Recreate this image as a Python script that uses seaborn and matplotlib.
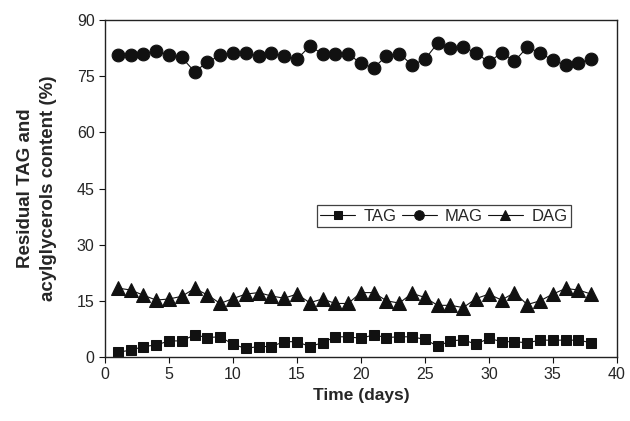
import matplotlib
matplotlib.use("Agg")
import matplotlib.pyplot as plt
import seaborn as sns
import pandas as pd

days = list(range(1, 39))
tag = [1.3, 1.8, 2.8, 3.2, 4.3, 4.3, 5.9, 5.2, 5.4, 3.4, 2.3, 2.8, 2.8, 4.1, 4.1, 2.8, 3.8, 5.4, 5.4, 5.0,
       5.9, 5.2, 5.4, 5.4, 4.7, 2.9, 4.3, 4.6, 3.4, 5.0, 4.1, 4.1, 3.8, 4.5, 4.5, 4.5, 4.5, 3.8]
mag = [80.6, 80.6, 81.0, 81.8, 80.6, 80.0, 76.2, 78.7, 80.6, 81.3, 81.1, 80.4, 81.3, 80.3, 79.5, 83.0, 81.0, 81.0, 81.0, 78.4,
       77.2, 80.4, 81.0, 78.0, 79.5, 83.8, 82.4, 82.7, 81.3, 78.7, 81.3, 79.0, 82.7, 81.3, 79.2, 78.0, 78.4, 79.7]
dag = [18.4, 17.9, 16.5, 15.2, 15.5, 16.2, 18.3, 16.6, 14.3, 15.6, 16.8, 17.2, 16.3, 15.7, 16.8, 14.5, 15.5, 14.3, 14.3, 17.2,
       17.2, 15.0, 14.4, 17.0, 15.9, 13.8, 13.8, 13.2, 15.6, 16.8, 15.2, 17.2, 14.0, 15.0, 16.8, 18.3, 17.9, 16.8]

sns.set_style("ticks")
plt.rcParams['font.family'] = ['Liberation Sans', 'DejaVu Sans']

df = pd.DataFrame({'day': days * 3,
                   'value': tag + mag + dag,
                   'series': ['TAG'] * 38 + ['MAG'] * 38 + ['DAG'] * 38})

fig = plt.figure(figsize=(6.3, 4.21), dpi=100)
ax = fig.add_axes([0.1667, 0.152, 0.8123, 0.8005])

styles = {'TAG': ('s', 7.3), 'MAG': ('o', 9.2), 'DAG': ('^', 9.5)}
for name in ['TAG', 'MAG', 'DAG']:
    m, ms = styles[name]
    sub = df[df['series'] == name]
    sns.lineplot(data=sub, x='day', y='value', ax=ax, color='#111111', marker=m,
                 markersize=ms, markeredgecolor='#111111', linewidth=0.8, label=name)

ax.set_xlim(0, 40)
ax.set_ylim(0, 90)
ax.set_xticks(range(0, 41, 5))
ax.set_yticks(range(0, 91, 15))
ax.tick_params(labelsize=11.5, direction='out', length=4, width=0.8, color='#111111')
for s in ax.spines.values():
    s.set_linewidth(1.0)
    s.set_color('#222222')
ax.set_xlabel('Time (days)', fontsize=12.5, fontweight='bold')
ax.set_ylabel('Residual TAG and\nacylglycerols content (%)', fontsize=13.5, fontweight='bold',
              linespacing=1.45, labelpad=14)

leg = ax.legend(ncol=3, loc='center', bbox_to_anchor=(0.662, 0.418), fontsize=12, frameon=True,
                fancybox=False, edgecolor='#111111', handlelength=2.1, handletextpad=0.5,
                columnspacing=0.3, borderpad=0.2, borderaxespad=0, markerscale=0.75)
leg.get_frame().set_linewidth(0.9)

fig.savefig('out.png', dpi=100)
